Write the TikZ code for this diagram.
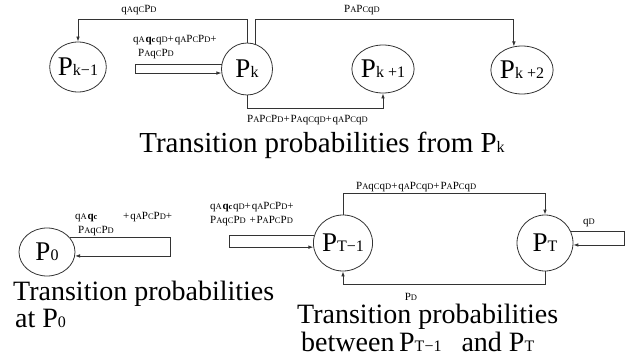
\documentclass[tikz,border=0pt]{standalone}
\usepackage{fontspec}
\setmainfont{Liberation Serif}
\newfontfamily\labfont[LetterSpace=8]{Liberation Serif}
\usetikzlibrary{shapes.geometric,arrows.meta}
\newcommand{\nsub}[1]{{\fontsize{16}{16}\selectfont #1}}
\newcommand{\lsub}[1]{{\fontsize{8.5}{8.5}\selectfont #1}}
\begin{document}
\begin{tikzpicture}[x=1pt,y=-1pt,
  st/.style={draw=black!80, line width=0.8pt, ellipse, inner sep=0pt, font=\fontsize{27}{27}\selectfont},
  lab/.style={font=\labfont\fontsize{11}{13}\selectfont, inner sep=0pt, anchor=base west},
  captext/.style={font=\fontsize{28}{28}\selectfont, inner sep=0pt, anchor=base west},
  wire/.style={draw=black!80, line width=0.8pt},
  arr/.style={wire, -{Latex[length=5pt,width=3.6pt]}}]
\useasboundingbox (0,0) rectangle (637,361);

% ---------- top: transitions from P_k ----------
\node[st, minimum width=55pt, minimum height=50pt] (pkm1) at (78,67) {P\nsub{k−1}};
\node[st, minimum width=51pt, minimum height=52pt] (pk) at (247,69) {P\nsub{k}};
\node[st, minimum width=57pt, minimum height=48pt] (pkp1) at (383,69) {P\nsub{k +1}};
\node[st, minimum width=56pt, minimum height=48pt] (pkp2) at (522,70) {P\nsub{k +2}};

\coordinate (ytop) at (0,19);
\coordinate (ybot) at (0,108);
\coordinate (xloopk) at (135,0);

\draw[arr] (pk.north) -- (pk.north |- ytop) -| (pkm1.north);
\draw[arr] (pk.72) -- (pk.72 |- ytop) -| (pkp2.109);
\draw[arr] (pk.south) -- (pk.south |- ybot) -| (pkp1.south);
\draw[arr] (pk.169) -- (pk.169 -| xloopk) |- (pk.189);

\node[lab, anchor=base] (l1) at (139,13) {q\lsub{A}q\lsub{C}P\lsub{D}};
\node[lab, anchor=base] (l2) at (362,13) {P\lsub{A}P\lsub{C}q\lsub{D}};
\node[lab] (l3) at (133,43) {q\lsub{A}\textbf{q\lsub{c}}q\lsub{D}+q\lsub{A}P\lsub{C}P\lsub{D}+};
\node[lab] (l4) at (138,57) {P\lsub{A}q\lsub{C}P\lsub{D}};
\node[lab] (l5) at (247,122) {P\lsub{A}P\lsub{C}P\lsub{D}+P\lsub{A}q\lsub{C}q\lsub{D}+q\lsub{A}P\lsub{C}q\lsub{D}};

\node[captext, anchor=base, font=\fontsize{29}{29}\selectfont] (capk) at (322,152) {Transition probabilities from P\nsub{k}};

% ---------- bottom left: P_0 ----------
\node[st, minimum width=56pt, minimum height=48pt] (p0) at (47,252) {P\nsub{0}};
\coordinate (xloop0) at (170,0);
\draw[arr] (p0.32) -- (p0.32 -| xloop0) |- (p0.352);
\node[lab] (m1) at (75,219) {q\lsub{A}\textbf{q\lsub{c}}};
\node[lab] (m2) at (123,219) {+q\lsub{A}P\lsub{C}P\lsub{D}+};
\node[lab] (m3) at (78,233) {P\lsub{A}q\lsub{C}P\lsub{D}};
\node[captext] (cap0a) at (13,300) {Transition probabilities};
\node[captext] (cap0b) at (15,327) {at P\nsub{0}};

% ---------- bottom right: P_{T-1}, P_T ----------
\node[st, minimum width=58pt, minimum height=56pt] (ptm1) at (343,243) {P\nsub{T−1}};
\node[st, minimum width=56pt, minimum height=56pt] (pt) at (545,243) {P\nsub{T}};
\coordinate (xloopa) at (229,0);
\coordinate (xloopb) at (624,0);
\coordinate (ytopT) at (0,193);
\coordinate (ybotT) at (0,284);
\draw[arr] (ptm1.166) -- (ptm1.166 -| xloopa) |- (ptm1.188);
\draw[arr] (ptm1.north) -- (ptm1.north |- ytopT) -| (pt.north);
\draw[arr] (pt.south) -- (pt.south |- ybotT) -| (ptm1.south);
\draw[arr] (pt.24) -- (pt.24 -| xloopb) |- (pt.356);

\node[lab] (n1) at (210,209) {q\lsub{A}\textbf{q\lsub{c}}q\lsub{D}+q\lsub{A}P\lsub{C}P\lsub{D}+};
\node[lab] (n2) at (210,223) {P\lsub{A}q\lsub{C}P\lsub{D} +P\lsub{A}P\lsub{C}P\lsub{D}};
\node[lab] (n3) at (356,189) {P\lsub{A}q\lsub{C}q\lsub{D}+q\lsub{A}P\lsub{C}q\lsub{D}+P\lsub{A}P\lsub{C}q\lsub{D}};
\node[lab] (n4) at (583,224) {q\lsub{D}};
\node[lab, anchor=base] (n5) at (411,300) {P\lsub{D}};
\node[captext] (capTa) at (297,323) {Transition probabilities};
\node[captext] (capTb) at (301,351) {between\,P\nsub{T−1}\hspace{20pt}and P\nsub{T}};
\end{tikzpicture}
\end{document}
